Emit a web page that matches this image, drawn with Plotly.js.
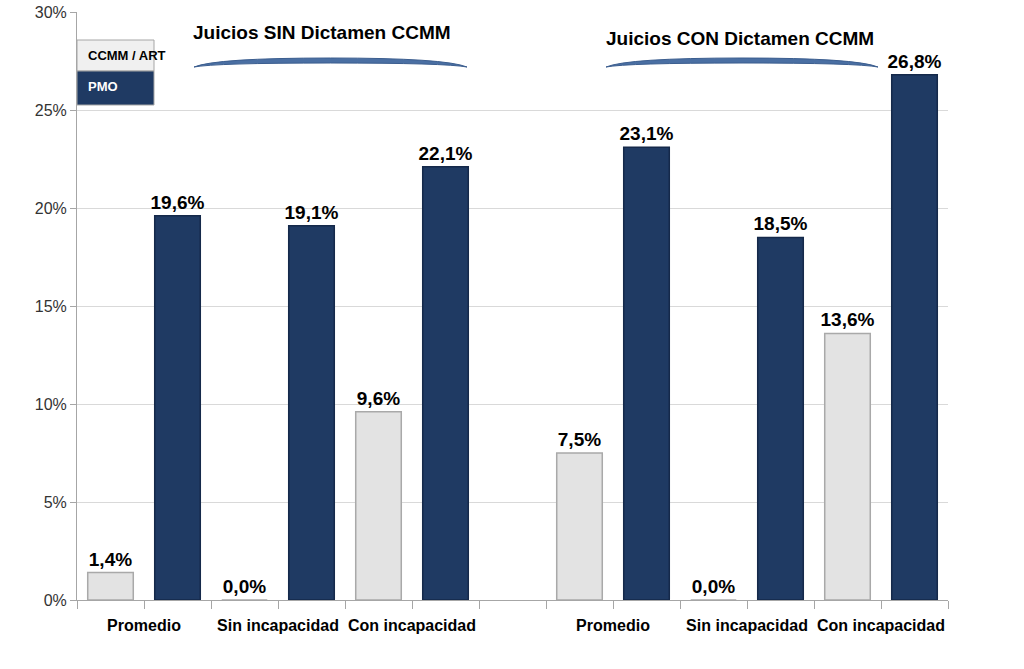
<!DOCTYPE html>
<html><head><meta charset="utf-8">
<script src="https://cdn.plot.ly/plotly-3.0.1.min.js"></script>
<style>html,body{margin:0;padding:0;background:#fff}#chart{width:1024px;height:669px}</style>
</head><body><div id="chart"></div>
<script>
const groups = ["Juicios SIN Dictamen CCMM", "Juicios CON Dictamen CCMM"];
const categories = ["Promedio", "Sin incapacidad", "Con incapacidad"];
const seriesNames = ["CCMM / ART", "PMO"];
const ccmmArt = [[0.014, 0.000, 0.096], [0.075, 0.000, 0.136]];
const pmo = [[0.196, 0.191, 0.221], [0.231, 0.185, 0.268]];

const groupStride = categories.length * 2 + 1;
const xLight = [], yLight = [], xDark = [], yDark = [], catPos = [], catText = [];
groups.forEach((g, gi) => {
  categories.forEach((c, ci) => {
    const base = gi * groupStride + ci * 2;
    xLight.push(base); yLight.push(ccmmArt[gi][ci]);
    xDark.push(base + 1); yDark.push(pmo[gi][ci]);
    catPos.push(base + 0.5); catText.push(c);
  });
});
const lastSlot = groups.length * groupStride - 2;
const tickEdges = [];
for (let i = 0; i <= lastSlot + 1; i++) tickEdges.push(i - 0.5);

const font = "Liberation Sans, Arial, sans-serif";
const labelFont = {family: font, size: 19, color: "#000", weight: "bold"};

const traces = [
  {type: "bar", name: seriesNames[0], x: xLight, y: yLight, width: 0.68,
   marker: {color: "#e3e3e3", line: {color: "#a9a9a9", width: 1.5}},
   texttemplate: "%{y:.1%}", textposition: "outside", textfont: labelFont, constraintext: "none",
   cliponaxis: false, hoverinfo: "skip"},
  {type: "bar", name: seriesNames[1], x: xDark, y: yDark, width: 0.68,
   marker: {color: "#1f3a63", line: {color: "#15294a", width: 1.5}},
   texttemplate: "%{y:.1%}", textposition: "outside", textfont: labelFont, constraintext: "none",
   cliponaxis: false, hoverinfo: "skip"},
  {type: "scatter", x: [0], y: [0], xaxis: "x2", mode: "markers",
   marker: {opacity: 0}, hoverinfo: "skip", showlegend: false}
];

const L = 77, R = 948, T = 12, B = 600;
const px = v => (v - L) / (R - L);
const py = v => (B - v) / (B - T);
function brace(x0, x1, yEnd, yMid) {
  const a = px(x0), b = px(x1);
  const e = py(yEnd), m = py(yMid), m2 = py(yMid + 5);
  const mid = (a + b) / 2;
  return `M ${a},${e} Q ${a + (b - a) * 0.08},${m} ${mid},${m} Q ${b - (b - a) * 0.08},${m} ${b},${e} Q ${b - (b - a) * 0.08},${m2} ${mid},${m2} Q ${a + (b - a) * 0.08},${m2} ${a},${e} Z`;
}

const layout = {
  width: 1024, height: 669,
  margin: {l: L, r: 1024 - R, t: T, b: 669 - B},
  separators: ",.",
  barmode: "overlay",
  showlegend: false,
  paper_bgcolor: "#fff", plot_bgcolor: "#fff",
  font: {family: font},
  xaxis: {range: [-0.5, lastSlot + 0.5], tickvals: tickEdges, ticktext: tickEdges.map(() => ""),
          ticks: "outside", ticklen: 8, tickcolor: "#a6a6a6", showgrid: false,
          showline: true, linecolor: "#a6a6a6", linewidth: 1, zeroline: false, fixedrange: true},
  xaxis2: {range: [-0.5, lastSlot + 0.5], overlaying: "x", anchor: "y", side: "bottom",
           tickvals: catPos, ticktext: catText, ticks: "", showgrid: false, showline: false,
           zeroline: false, ticklabelstandoff: 14, tickangle: 0,
           tickfont: {family: font, size: 16, color: "#000", weight: "bold"}},
  yaxis: {range: [0, 0.30], dtick: 0.05, tickformat: ".0%", showgrid: true, gridcolor: "#d9d9d9",
          showline: true, linecolor: "#a6a6a6", ticks: "outside", ticklen: 6, tickcolor: "#a6a6a6",
          zeroline: false, tickfont: {family: font, size: 16, color: "#333"}, fixedrange: true},
  shapes: [
    {type: "path", xref: "paper", yref: "paper", path: brace(194, 467, 67, 58),
     fillcolor: "#4a6fa3", line: {color: "#3c5e8f", width: 1}},
    {type: "path", xref: "paper", yref: "paper", path: brace(606, 878, 67, 58),
     fillcolor: "#4a6fa3", line: {color: "#3c5e8f", width: 1}},
    {type: "rect", xref: "paper", yref: "paper", x0: px(77), x1: px(154), y0: py(71), y1: py(40),
     fillcolor: "#f0f0f0", line: {color: "#a6a6a6", width: 1}},
    {type: "rect", xref: "paper", yref: "paper", x0: px(77), x1: px(154), y0: py(105), y1: py(71),
     fillcolor: "#1f3a63", line: {color: "#a6a6a6", width: 1}}
  ],
  annotations: [
    {xref: "paper", yref: "paper", x: px(322), y: py(32), text: groups[0], showarrow: false,
     xanchor: "center", yanchor: "middle", font: {family: font, size: 19, color: "#000", weight: "bold"}},
    {xref: "paper", yref: "paper", x: px(740), y: py(38), text: groups[1], showarrow: false,
     xanchor: "center", yanchor: "middle", font: {family: font, size: 19, color: "#000", weight: "bold"}},
    {xref: "paper", yref: "paper", x: px(86), y: py(56), text: seriesNames[0], showarrow: false,
     xanchor: "left", yanchor: "middle", font: {family: font, size: 13, color: "#000", weight: "bold"}},
    {xref: "paper", yref: "paper", x: px(86), y: py(87), text: seriesNames[1], showarrow: false,
     xanchor: "left", yanchor: "middle", font: {family: font, size: 13, color: "#fff", weight: "bold"}}
  ]
};
Plotly.newPlot("chart", traces, layout, {displayModeBar: false, staticPlot: true});
</script></body></html>
